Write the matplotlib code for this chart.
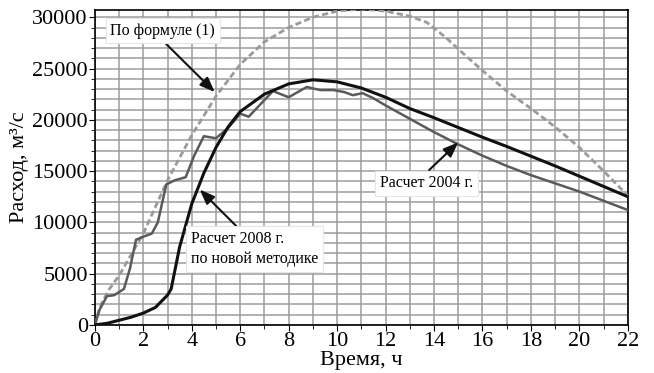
#%% IMPORTS
import numpy as np
import matplotlib
matplotlib.use("Agg")
import matplotlib.pyplot as plt
from matplotlib.ticker import MultipleLocator

#%% DATA
# По формуле (1)
t_formula = [0, 0.15, 0.3, 0.6, 1, 2, 3, 4, 5, 6, 7, 8, 9, 10, 11, 12, 13,
             13.7, 14.5, 15, 16, 17, 18, 19, 20, 21, 22]
q_formula = [0, 1300, 2200, 3500, 4800, 8900, 14100, 18500, 22300, 25400,
             27600, 29000, 30000, 30600, 30800, 30600, 30100, 29500, 28000,
             26900, 24800, 22800, 21100, 19300, 17300, 15000, 12600]

# Расчет 2004 г.
t_2004 = [0, 0.2, 0.5, 0.8, 1.2, 1.45, 1.7, 2.0, 2.35, 2.6, 2.95, 3.3, 3.75,
          4.1, 4.5, 5.0, 5.5, 6.0, 6.35, 6.75, 7.35, 8.0, 8.75, 9.3, 9.85,
          10.3, 10.65, 11.05, 11.5, 12, 13, 14, 15, 16, 17, 18, 19, 20, 21, 22]
q_2004 = [0, 1500, 2800, 2900, 3500, 5500, 8300, 8600, 8900, 10000, 13700,
          14100, 14400, 16500, 18400, 18200, 19200, 20600, 20300, 21300,
          22800, 22200, 23200, 22900, 22900, 22700, 22400, 22600, 22100,
          21400, 20100, 18800, 17600, 16500, 15500, 14600, 13800, 13000,
          12100, 11200]

# Расчет 2008 г. по новой методике
t_2008 = [0, 0.5, 1, 1.5, 2, 2.5, 3, 3.15, 3.5, 4, 4.5, 5, 5.5, 6, 7, 8, 9,
          10, 11, 12, 13, 14, 15, 16, 17, 18, 19, 20, 21, 22]
q_2008 = [0, 150, 450, 750, 1150, 1700, 2900, 3500, 7600, 11800, 14800,
          17300, 19300, 20800, 22500, 23500, 23900, 23700, 23100, 22200,
          21100, 20200, 19250, 18300, 17400, 16450, 15500, 14500, 13500, 12500]

#%% PLOT
plt.rcParams["font.family"] = ["Liberation Serif", "DejaVu Serif"]

fig = plt.figure(figsize=(6.54, 3.73), dpi=100)
ax = fig.add_axes([0.145, 0.129, 0.815, 0.844])

ax.plot(t_formula, q_formula, color="#9a9a9a", lw=2.0, ls=(0, (2.2, 1.2)), zorder=3)
ax.plot(t_2004, q_2004, color="#5a5a5a", lw=1.8, solid_joinstyle="round", zorder=4)
ax.plot(t_2008, q_2008, color="#111111", lw=2.2, solid_joinstyle="round", zorder=5)

ax.set_xlim(0, 22)
ax.set_ylim(0, 30700)
ax.xaxis.set_major_locator(MultipleLocator(2))
ax.xaxis.set_minor_locator(MultipleLocator(1))
ax.yaxis.set_major_locator(MultipleLocator(5000))
ax.yaxis.set_minor_locator(MultipleLocator(1000))
ax.grid(which="both", color="#9c9c9c", lw=1.1, zorder=0)
ax.tick_params(which="both", direction="out", labelsize=16, pad=1)
ax.tick_params(which="major", length=4)
ax.tick_params(which="minor", length=3)
for s in ax.spines.values():
    s.set_linewidth(1.2)

ax.set_xlabel("Время, ч", fontsize=16, labelpad=0)
ax.set_ylabel("Расход, м³/с", fontsize=16, labelpad=2)

box = dict(boxstyle="square,pad=0.3", fc="white", ec="#e6e6e6", lw=0.8)
arr = dict(arrowstyle="-|>,head_length=0.9,head_width=0.35", color="#111111",
           lw=1.5, shrinkA=0, shrinkB=0)

ax.annotate("", xy=(4.95, 22700), xytext=(2.9, 27500), arrowprops=arr, zorder=6)
ax.text(2.8, 28700, "По формуле (1)", fontsize=11.5, ha="center", va="center",
        bbox=box, zorder=7)

ax.annotate("", xy=(15.0, 17800), xytext=(13.8, 15100), arrowprops=arr, zorder=6)
ax.text(13.7, 13800, "Расчет 2004 г.", fontsize=11.5, ha="center", va="center",
        bbox=box, zorder=7)

ax.annotate("", xy=(4.33, 13200), xytext=(5.98, 9300), arrowprops=arr, zorder=6)
ax.text(3.95, 7400, "Расчет 2008 г.\nпо новой методике", fontsize=11.5,
        ha="left", va="center", linespacing=1.35, bbox=box, zorder=7)

fig.savefig("out.png", dpi=100)
